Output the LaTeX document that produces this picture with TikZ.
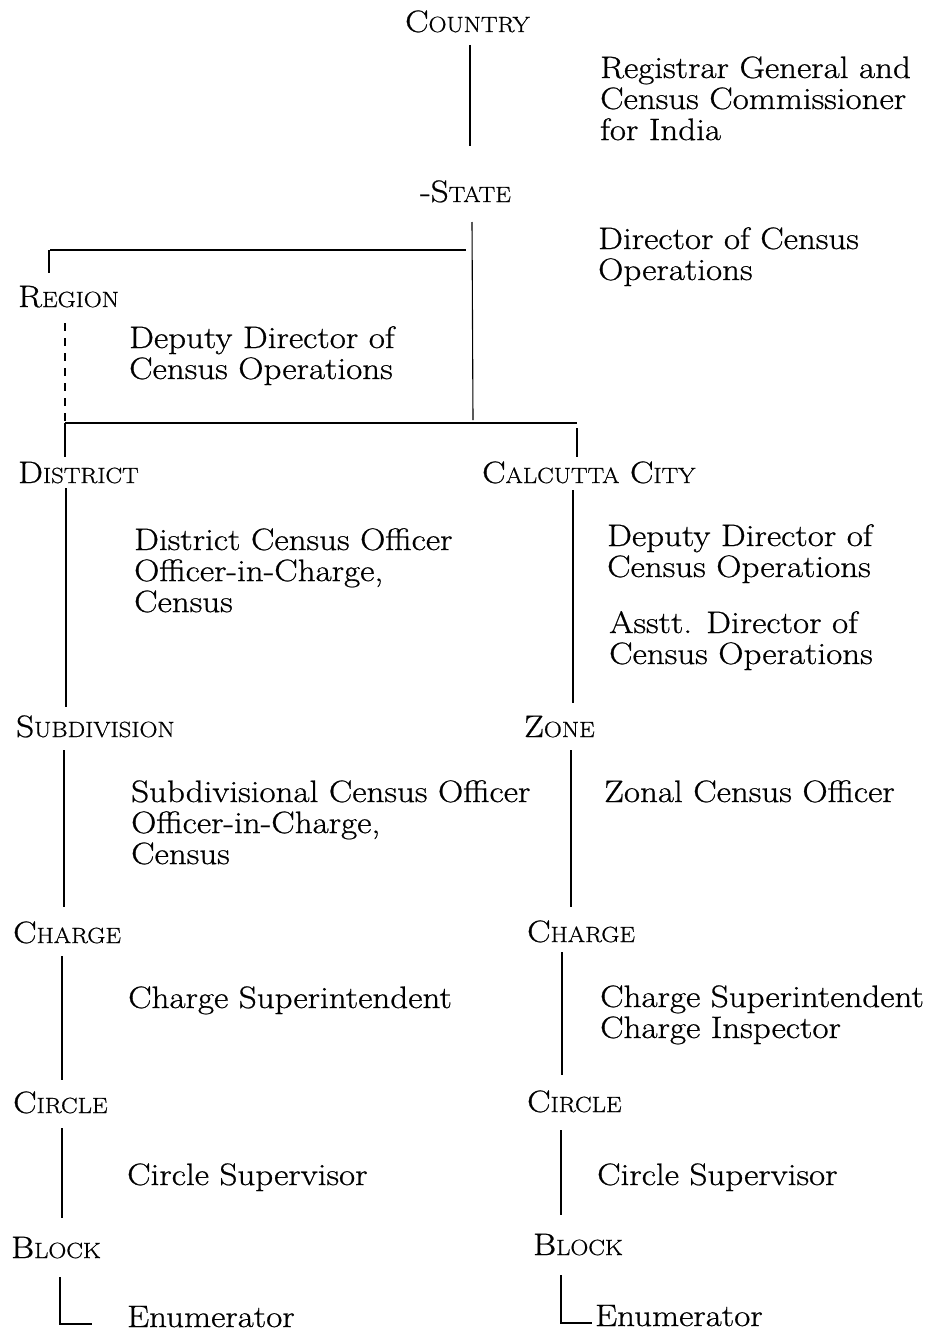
\documentclass[tikz,border=0pt]{standalone}
\usepackage{fontspec}
\setmainfont{Latin Modern Roman}[FakeStretch=1.13,FakeBold=0.7]
\newcommand\labfont{\fontsize{31}{31}\selectfont}
\newcommand\fsc[2]{#1{\fontsize{22}{22}\selectfont #2}}
\tikzset{
  lab/.style={inner sep=0pt, anchor=base west, font=\labfont},
  link/.style={line width=1.1pt, line cap=butt},
  dlink/.style={link, dash pattern=on 8pt off 7pt}
}
\newcommand\ml[1]{\begin{tabular}[t]{@{}l@{}}#1\end{tabular}}
\begin{document}
\begin{tikzpicture}[x=1pt,y=-1pt]
\useasboundingbox (0,0) rectangle (935,1335);
% level labels
\node[lab] (country)  at (405,32)   {\fsc{C}{OUNTRY}};
\node[lab] (state)    at (420,202)  {-\fsc{S}{TATE}};
\node[lab] (region)   at (18,307)   {\fsc{R}{EGION}};
\node[lab] (district) at (18,483)   {\fsc{D}{ISTRICT}};
\node[lab] (calcutta) at (482,483)  {\fsc{C}{ALCUTTA} \fsc{C}{ITY}};
\node[lab] (subdiv)   at (16,737)   {\fsc{S}{UBDIVISION}};
\node[lab] (zone)     at (524,737)  {\fsc{Z}{ONE}};
\node[lab] (chargeL)  at (13,943)   {\fsc{C}{HARGE}};
\node[lab] (chargeR)  at (527,942)  {\fsc{C}{HARGE}};
\node[lab] (circleL)  at (13,1113)  {\fsc{C}{IRCLE}};
\node[lab] (circleR)  at (527,1112) {\fsc{C}{IRCLE}};
\node[lab] (blockL)   at (11,1258)  {\fsc{B}{LOCK}};
\node[lab] (blockR)   at (533,1255) {\fsc{B}{LOCK}};
% officer labels
\node[lab] (rg)    at (600,78)   {\ml{Registrar General and\\Census Commissioner\\for India}};
\node[lab] (doc)   at (598,249)  {\ml{Director of Census\\Operations}};
\node[lab] (ddco1) at (129,348)  {\ml{Deputy Director of\\Census Operations}};
\node[lab] (dco)   at (134,550)  {\ml{District Census Officer\\Officer-in-Charge,\\Census}};
\node[lab] (ddco2) at (607,546)  {\ml{Deputy Director of\\Census Operations}};
\node[lab] (adco)  at (609,633)  {\ml{Asstt. Director of\\Census Operations}};
\node[lab] (sdco)  at (131,802)  {\ml{Subdivisional Census Officer\\Officer-in-Charge,\\Census}};
\node[lab] (zco)   at (604,802)  {Zonal Census Officer};
\node[lab] (csL)   at (128,1008) {Charge Superintendent};
\node[lab] (csR)   at (600,1007) {\ml{Charge Superintendent\\Charge Inspector}};
\node[lab] (cvL)   at (127,1185) {Circle Supervisor};
\node[lab] (cvR)   at (597,1185) {Circle Supervisor};
\node[lab] (enL)   at (127,1327) {Enumerator};
\node[lab] (enR)   at (595,1326) {Enumerator};
% connector end points
\coordinate (c1) at (470,45);   \coordinate (c2) at (470,146);
\coordinate (s1) at (472,222);  \coordinate (s2) at (473,420);
\coordinate (h1) at (50,250);   \coordinate (h2) at (466,250);
\coordinate (r1) at (49,250);   \coordinate (r2) at (49,273);
\coordinate (g1) at (65,323);   \coordinate (g2) at (65,423);
\coordinate (b1) at (65,423);   \coordinate (b2) at (577,423);
\coordinate (d0) at (65,457);
\coordinate (k1) at (577,428);  \coordinate (k2) at (577,457);
\coordinate (d1) at (66,488);   \coordinate (d2) at (66,707);
\coordinate (k3) at (573,490);  \coordinate (k4) at (573,703);
\coordinate (u1) at (64,750);   \coordinate (u2) at (64,907);
\coordinate (z1) at (571,750);  \coordinate (z2) at (571,907);
\coordinate (p1) at (62,956);   \coordinate (p2) at (62,1080);
\coordinate (q1) at (562,952);  \coordinate (q2) at (562,1075);
\coordinate (p3) at (62,1128);  \coordinate (p4) at (62,1218);
\coordinate (q3) at (561,1130); \coordinate (q4) at (561,1215);
\coordinate (p5) at (60,1277);  \coordinate (p6) at (60,1324); \coordinate (p7) at (92,1324);
\coordinate (q5) at (561,1275); \coordinate (q6) at (561,1323); \coordinate (q7) at (592,1323);
% connectors
\draw[link] (c1) -- (c2);
\draw[link] (s1) -- (s2);
\draw[link] (h1) -- (h2);
\draw[link] (r1) -- (r2);
\draw[dlink] (g1) -- (g2);
\draw[link] (b1) -- (b2);
\draw[link] (b1) -- (d0);
\draw[link] (k1) -- (k2);
\draw[link] (d1) -- (d2);
\draw[link] (k3) -- (k4);
\draw[link] (u1) -- (u2);
\draw[link] (z1) -- (z2);
\draw[link] (p1) -- (p2);
\draw[link] (q1) -- (q2);
\draw[link] (p3) -- (p4);
\draw[link] (q3) -- (q4);
\draw[link] (p5) -- (p6) -- (p7);
\draw[link] (q5) -- (q6) -- (q7);
\end{tikzpicture}
\end{document}
